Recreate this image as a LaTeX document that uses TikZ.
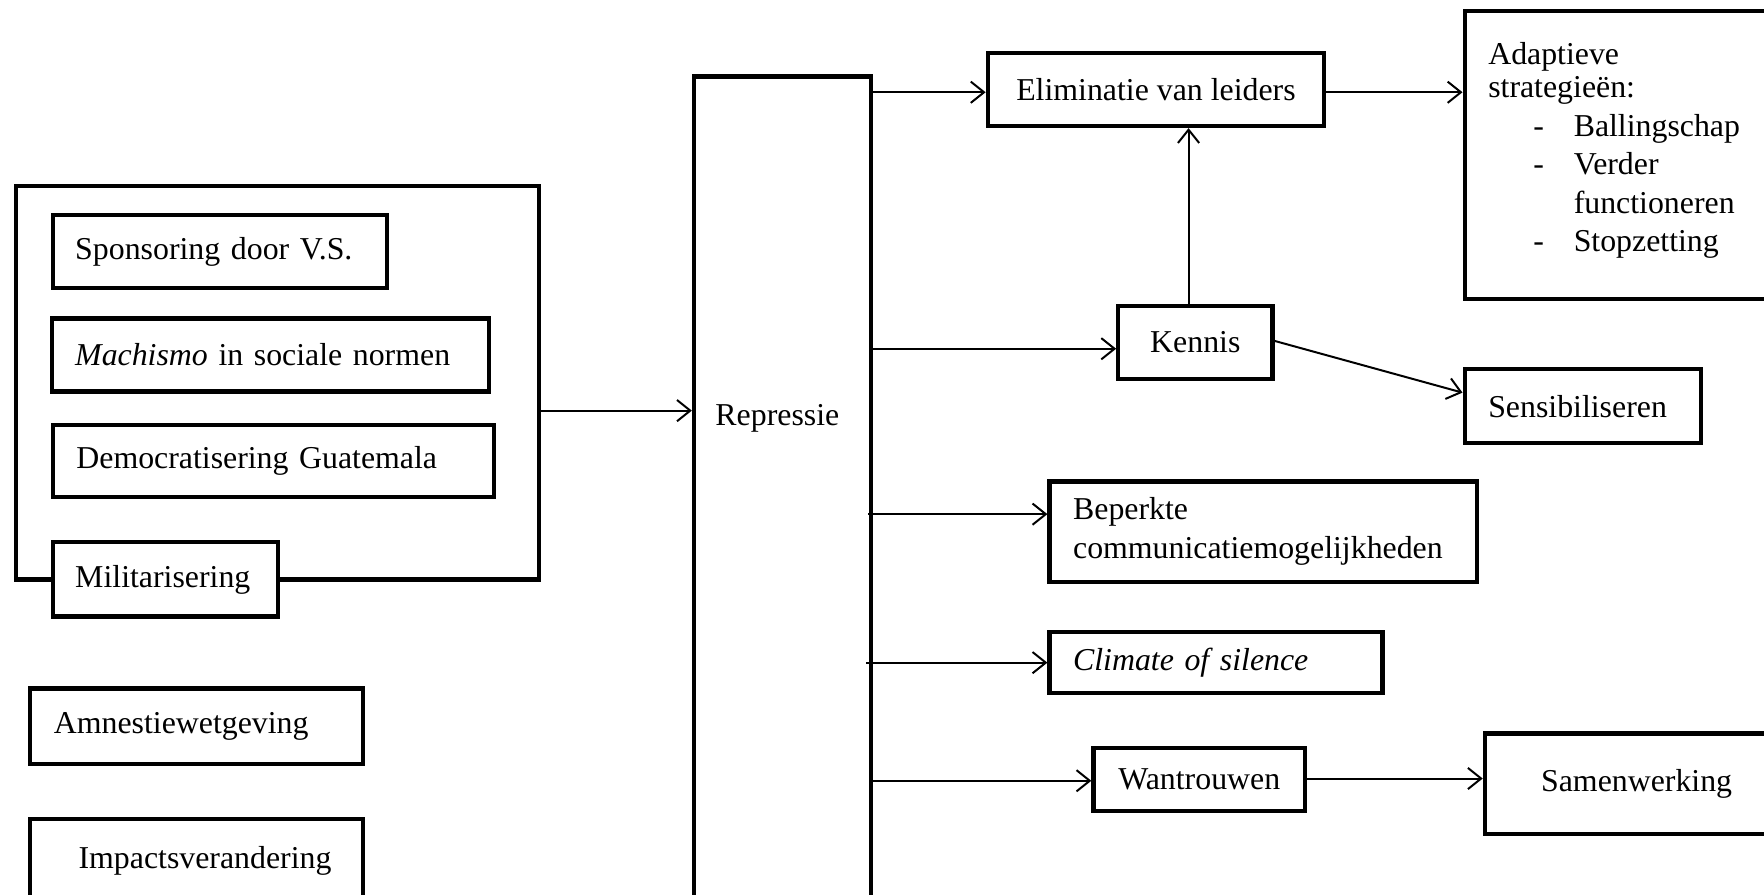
\documentclass[tikz,border=0pt]{standalone}
\usepackage{fontspec}
\setmainfont{Liberation Serif}
\usepackage{tikz}
\usetikzlibrary{arrows.meta}
\newlength{\eenheid}
\setlength{\eenheid}{0.424pt}
\newcommand{\streepje}{\hspace*{40\eenheid}\makebox[36\eenheid][l]{-}}

\begin{document}
\begin{tikzpicture}[x=0.424pt, y=-0.424pt,
  font=\fontsize{12}{14.5}\selectfont,
  blok/.style={draw, line width=1.6pt, rectangle, inner ysep=0pt, align=left},
  pijl/.style={-{Straight Barb[length=5pt, width=8pt]}, line width=0.75pt}]
  \useasboundingbox (0,0) rectangle (1568,795);
  \clip (0,0) rectangle (1568,795);

  \node[blok, anchor=west, minimum width=465\eenheid, minimum height=350\eenheid] (context) at (12,340) {};
  \node[blok, anchor=west, inner xsep=20\eenheid, text width=257\eenheid, minimum height=65\eenheid] (sponsoring) at (45,223.5) {Sponsoring door V.S.};
  \node[blok, anchor=west, inner xsep=21\eenheid, text width=347\eenheid, minimum height=65\eenheid] (machismo) at (44,315.5) {\textit{Machismo} in sociale normen};
  \node[blok, anchor=west, inner xsep=21\eenheid, text width=350\eenheid, minimum height=64\eenheid] (democratisering) at (45,410) {Democratisering Guatemala};
  \node[blok, fill=white, anchor=west, inner xsep=20\eenheid, text width=160\eenheid, minimum height=66\eenheid] (militarisering) at (45,515) {Militarisering};
  \node[blok, anchor=west, inner xsep=21\eenheid, text width=254\eenheid, minimum height=67\eenheid] (amnestie) at (25,645.5) {Amnestiewetgeving};
  \node[blok, anchor=west, inner xsep=43\eenheid, text width=210\eenheid, minimum height=74\eenheid] (impacts) at (25,765) {Impactsverandering};

  \node[blok, anchor=north west, minimum width=157\eenheid, minimum height=780\eenheid] (repressie) at (615,66) {};
  \node (repressietekst) at (691,372) {Repressie};

  \node[blok, minimum width=299\eenheid, minimum height=65\eenheid] (eliminatie) at (1027.5,79.5) {Eliminatie van leiders};
  \node[blok, anchor=north west, inner xsep=21\eenheid, text width=260\eenheid, minimum height=256\eenheid] (adaptief) at (1300,8) {Adaptieve\\[-2pt]strategieën:\\\streepje Ballingschap\\\streepje Verder\\\hspace*{76\eenheid}functioneren\\\streepje Stopzetting\rule[-6.2pt]{0pt}{6.2pt}};
  \node[blok, minimum width=137\eenheid, minimum height=65\eenheid] (kennis) at (1062.5,304.5) {Kennis};
  \node[blok, anchor=west, inner xsep=21\eenheid, text width=168\eenheid, minimum height=66\eenheid] (sensibiliseren) at (1300,361) {Sensibiliseren};
  \node[blok, anchor=west, inner xsep=21\eenheid, text width=338\eenheid, minimum height=89\eenheid] (beperkt) at (931,472.5) {Beperkte\\communicatiemogelijkheden};
  \node[blok, anchor=west, inner xsep=21\eenheid, text width=254\eenheid, minimum height=54\eenheid] (climate) at (931,589) {\textit{Climate of silence}};
  \node[blok, minimum width=188\eenheid, minimum height=56\eenheid] (wantrouwen) at (1066,693) {Wantrouwen};
  \node[blok, anchor=west, inner xsep=50\eenheid, text width=200\eenheid, minimum height=89\eenheid] (samenwerking) at (1318,696.5) {Samenwerking};

  \draw[pijl] ([yshift=-25\eenheid]context.east) -- ([yshift=-25\eenheid]context.east -| repressie.west);
  \draw[pijl] ([yshift=-2.5\eenheid]eliminatie.west -| repressie.east) -- ([yshift=-2.5\eenheid]eliminatie.west);
  \draw[pijl] ([yshift=-2.5\eenheid]eliminatie.east) -- ([yshift=-2.5\eenheid]eliminatie.east -| adaptief.west);
  \draw[pijl] ([yshift=-5.5\eenheid]kennis.west -| repressie.east) -- ([yshift=-5.5\eenheid]kennis.west);
  \draw[pijl] ([xshift=-6\eenheid]kennis.north) -- ([xshift=-6\eenheid]kennis.north |- eliminatie.south);
  \draw[pijl] ([yshift=1.5\eenheid]kennis.east) -- ([yshift=12\eenheid]sensibiliseren.west);
  \draw[pijl] ([xshift=-4\eenheid, yshift=15.5\eenheid]beperkt.west -| repressie.east) -- ([yshift=15.5\eenheid]beperkt.west);
  \draw[pijl] ([xshift=-6\eenheid]climate.west -| repressie.east) -- (climate.west);
  \draw[pijl] ([yshift=-1\eenheid]wantrouwen.west -| repressie.east) -- ([yshift=-1\eenheid]wantrouwen.west);
  \draw[pijl] ([yshift=1\eenheid]wantrouwen.east) -- ([yshift=1\eenheid]wantrouwen.east -| samenwerking.west);
\end{tikzpicture}
\end{document}
